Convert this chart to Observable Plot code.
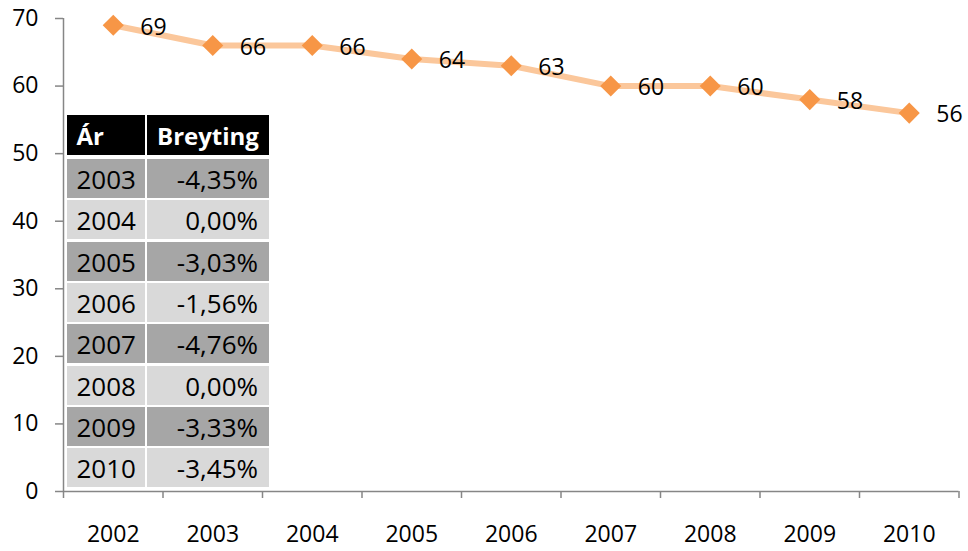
<!DOCTYPE html>
<html>
<head>
<meta charset="utf-8">
<script src="https://cdn.jsdelivr.net/npm/d3@7"></script>
<script src="https://cdn.jsdelivr.net/npm/@observablehq/plot@0.6"></script>
<style>
  html, body { margin: 0; padding: 0; background: #fff; }
  #wrap { position: relative; width: 968px; height: 551px; font-family: "Open Sans", sans-serif; }
  .cell { position: absolute; box-sizing: border-box; font-size: 26px; color: #000; white-space: nowrap; }
  .hdr { background: #000; color: #fff; font-weight: bold; font-size: 24px; }
</style>
</head>
<body>
<div id="wrap"></div>
<script>
// ---- data ----
const years = [2002, 2003, 2004, 2005, 2006, 2007, 2008, 2009, 2010];
const values = [69, 66, 66, 64, 63, 60, 60, 58, 56];
const yTicks = [0, 10, 20, 30, 40, 50, 60, 70];
const tableHeader = ["Ár", "Breyting"];
const tableYears = ["2003", "2004", "2005", "2006", "2007", "2008", "2009", "2010"];
const tableChanges = ["-4,35%", "0,00%", "-3,03%", "-1,56%", "-4,76%", "0,00%", "-3,33%", "-3,45%"];

const data = years.map((y, i) => ({year: y, value: values[i]}));
const boundaries = d3.range(years.length + 1).map(i => years[0] - 0.5 + i);

const gray = "#868686";
const font = "Open Sans, sans-serif";

const chart = Plot.plot({
  width: 968,
  height: 551,
  marginLeft: 63,
  marginRight: 9.5,
  marginTop: 18,
  marginBottom: 60,
  style: {fontFamily: font, fontSize: "23px", background: "transparent", overflow: "visible"},
  x: {type: "linear", domain: [years[0] - 0.5, years[years.length - 1] + 0.5]},
  y: {domain: [0, 70]},
  marks: [
    // y axis
    Plot.ruleX([years[0] - 0.5], {y1: 0, y2: 70, stroke: gray, strokeWidth: 1.5}),
    Plot.axisY({ticks: yTicks, tickSize: 8, stroke: gray, strokeWidth: 1.5, tickFormat: () => "", label: null}),
    Plot.axisY({ticks: yTicks, tickSize: 8, tickPadding: 17, stroke: "none", fill: "#000", tickFormat: d => String(d), label: null, fontSize: 23}),
    // x axis
    Plot.ruleY([0], {x1: years[0] - 0.5, x2: years[years.length - 1] + 0.5, stroke: gray, strokeWidth: 1.5}),
    Plot.axisX({ticks: boundaries, tickSize: 7, stroke: gray, strokeWidth: 1.5, tickFormat: () => "", label: null}),
    Plot.axisX({ticks: years, tickSize: 0, tickPadding: 34, fill: "#000", tickFormat: d => String(d), label: null, fontSize: 23}),
    // series
    Plot.line(data, {x: "year", y: "value", stroke: "#fbc79b", strokeWidth: 6, curve: "linear"}),
    Plot.dot(data, {x: "year", y: "value", symbol: "diamond2", r: 9.5, fill: "#f79646", stroke: "none"}),
    Plot.text(data, {x: "year", y: "value", text: d => String(d.value), dx: 27, dy: 2, textAnchor: "start", fill: "#000", fontSize: 23})
  ]
});

const wrap = document.getElementById("wrap");
wrap.appendChild(chart);

// ---- table overlay ----
const colLeft = [66.5, 147];
const colWidth = [78.5, 121.5];
function addCell(text, left, top, width, height, cls, align, bg) {
  const d = document.createElement("div");
  d.className = "cell " + cls;
  d.textContent = text;
  d.style.left = left + "px";
  d.style.top = top + "px";
  d.style.width = width + "px";
  d.style.height = height + "px";
  d.style.lineHeight = (height + 2) + "px";
  d.style.textAlign = align;
  d.style.paddingLeft = align === "left" ? "10px" : "0";
  d.style.paddingRight = align === "right" ? "10.5px" : "0";
  if (bg) d.style.background = bg;
  wrap.appendChild(d);
}
addCell(tableHeader[0], colLeft[0], 115, colWidth[0], 39.5, "hdr", "left");
addCell(tableHeader[1], colLeft[1], 115, colWidth[1], 39.5, "hdr", "left");
tableYears.forEach((y, i) => {
  const top = 159 + i * 41.35;
  const bg = i % 2 === 0 ? "#a6a6a6" : "#d9d9d9";
  addCell(y, colLeft[0], top, colWidth[0], 39, "", "left", bg);
  addCell(tableChanges[i], colLeft[1], top, colWidth[1], 39, "", "right", bg);
});
</script>
</body>
</html>
